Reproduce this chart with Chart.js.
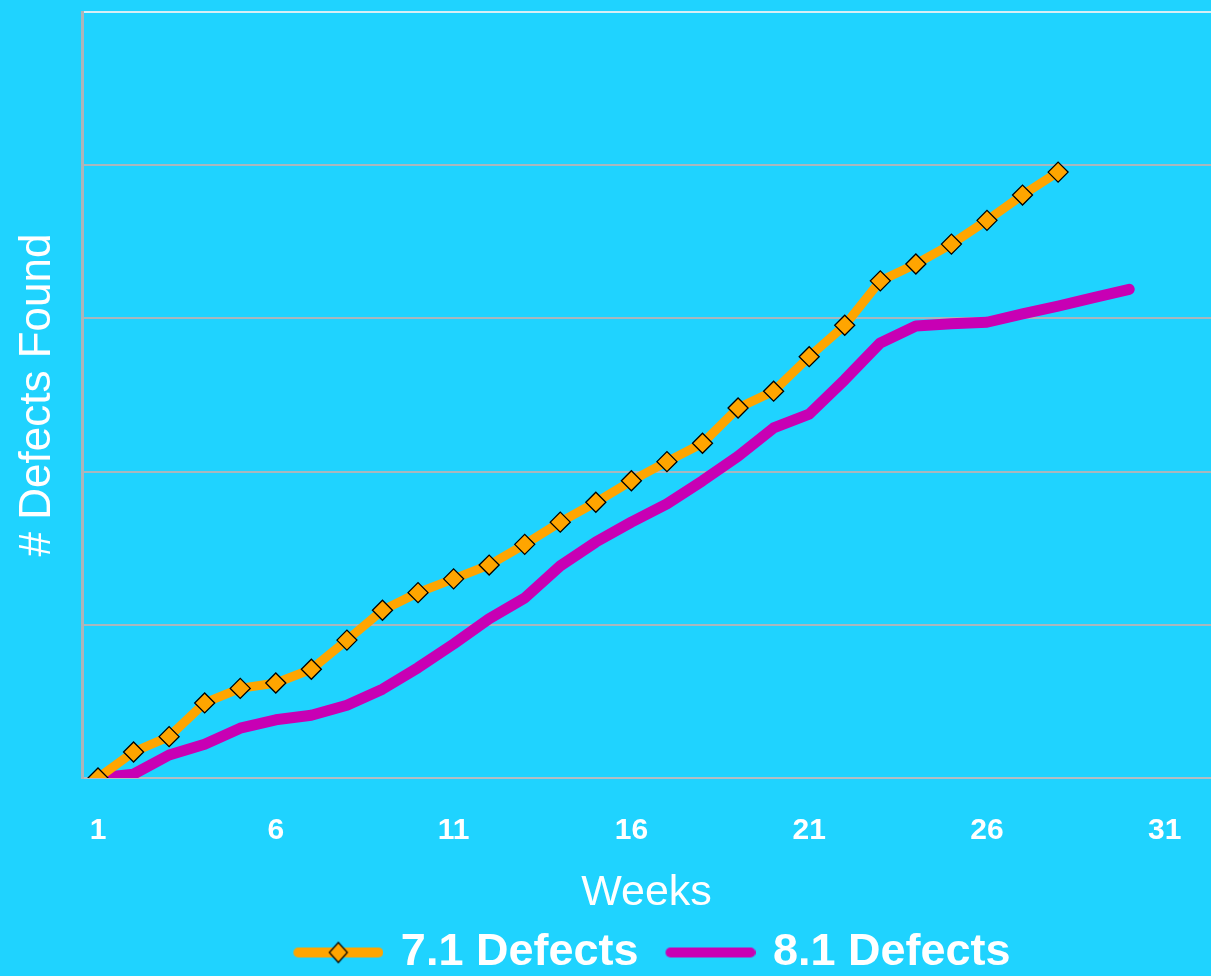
<!DOCTYPE html>
<html>
<head>
<meta charset="utf-8">
<script src="https://cdn.jsdelivr.net/npm/chart.js@4/dist/chart.umd.min.js"></script>
<style>
    html, body { margin: 0; padding: 0; background: #1FD3FF; }
    #wrap { width: 1211px; height: 976px; position: relative; }
</style>
</head>
<body>
<div id="wrap"><canvas id="grafico"></canvas></div>
<script>
// Semanas y defectos acumulados (escala relativa, el eje no muestra valores)
const WEEKS = [1, 2, 3, 4, 5, 6, 7, 8, 9, 10, 11, 12, 13, 14, 15, 16, 17, 18, 19, 20, 21, 22, 23, 24, 25, 26, 27, 28, 29, 30];
const DEFECTS_71 = [0, 3.4, 5.4, 9.8, 11.7, 12.4, 14.2, 18.0, 21.9, 24.2, 26.0, 27.8, 30.5, 33.4, 36.0, 38.8, 41.3, 43.7, 48.3, 50.5, 55.0, 59.1, 64.9, 67.1, 69.7, 72.8, 76.1, 79.1];
const DEFECTS_81 = [0, 0.5, 3.0, 4.4, 6.5, 7.6, 8.2, 9.5, 11.6, 14.4, 17.5, 20.8, 23.5, 27.7, 30.8, 33.4, 35.8, 38.8, 42.0, 45.7, 47.5, 52.0, 56.8, 59.0, 59.3, 59.5, 60.6, 61.6, 62.7, 63.8];
const X_TICKS = [1, 6, 11, 16, 21, 26, 31];
const SERIES_NAMES = ['7.1 Defects', '8.1 Defects'];

const ORANGE = '#FFA500';
const MAGENTA = '#C800B4';
const FONT = 'Arial, "Liberation Sans", sans-serif';

// Pares {x, y} a partir de los arreglos
const toPoints = (values) => values.map((v, i) => ({ x: WEEKS[i], y: v }));

// Iconos de la leyenda: línea gruesa, con rombo para la serie 7.1
const legendIcon = (color, diamond) => {
    const c = document.createElement('canvas');
    c.width = 100;
    c.height = 26;
    const ctx = c.getContext('2d');
    ctx.strokeStyle = color;
    ctx.lineWidth = 10;
    ctx.lineCap = 'round';
    ctx.beginPath();
    ctx.moveTo(15, 13);
    ctx.lineTo(95, 13);
    ctx.stroke();
    if (diamond) {
        ctx.fillStyle = color;
        ctx.strokeStyle = '#000';
        ctx.lineWidth = 1.2;
        ctx.beginPath();
        ctx.moveTo(55, 3);
        ctx.lineTo(64, 13);
        ctx.lineTo(55, 23);
        ctx.lineTo(46, 13);
        ctx.closePath();
        ctx.fill();
        ctx.stroke();
    }
    return c;
};
const ICONS = [legendIcon(ORANGE, true), legendIcon(MAGENTA, false)];

// Desplaza la leyenda para centrarla como en el original
const legendShift = {
    id: 'legendShift',
    afterLayout: (chart) => {
        if (chart.legend) {
            chart.legend.left = 88;
        }
    }
};

Chart.defaults.font.family = FONT;

new Chart(document.getElementById('grafico'), {
    type: 'line',
    data: {
        datasets: [{
            label: SERIES_NAMES[0],
            data: toPoints(DEFECTS_71),
            borderColor: ORANGE,
            backgroundColor: ORANGE,
            borderWidth: 9,
            pointStyle: 'rectRot',
            pointRadius: 10,
            pointBackgroundColor: ORANGE,
            pointBorderColor: '#000',
            pointBorderWidth: 1.3,
            tension: 0
        }, {
            label: SERIES_NAMES[1],
            data: toPoints(DEFECTS_81),
            borderColor: MAGENTA,
            backgroundColor: MAGENTA,
            borderWidth: 11,
            borderCapStyle: 'round',
            borderJoinStyle: 'round',
            pointRadius: 0,
            tension: 0
        }]
    },
    plugins: [legendShift],
    options: {
        responsive: true,
        maintainAspectRatio: false,
        animation: false,
        layout: { autoPadding: false, padding: { top: 12, right: 0, left: 0, bottom: -9 } },
        plugins: {
            tooltip: { enabled: false },
            legend: {
                position: 'bottom',
                labels: {
                    color: '#fff',
                    font: { size: 45, weight: 'bold', lineHeight: 1.0 },
                    usePointStyle: true,
                    pointStyleWidth: 90,
                    boxHeight: 26,
                    padding: 22,
                    generateLabels: (chart) => chart.data.datasets.map((ds, i) => ({
                        text: ds.label,
                        pointStyle: ICONS[i],
                        fillStyle: ds.borderColor,
                        strokeStyle: ds.borderColor,
                        lineWidth: 0,
                        hidden: false,
                        datasetIndex: i,
                        fontColor: '#fff'
                    }))
                }
            }
        },
        scales: {
            x: {
                type: 'linear',
                min: 0.55,
                max: 32.3,
                afterBuildTicks: (scale) => {
                    scale.ticks = X_TICKS.map(v => ({ value: v }));
                },
                afterFit: (scale) => {
                    scale.height = 130;
                    scale.paddingLeft = 0;
                    scale.paddingRight = 0;
                },
                grid: { display: false, drawTicks: false },
                border: { display: true, color: '#B4BEC3', width: 2 },
                ticks: {
                    color: '#fff',
                    font: { size: 30, weight: 'bold' },
                    padding: 35,
                    maxRotation: 0,
                    autoSkip: false
                },
                title: {
                    display: true,
                    text: 'Weeks',
                    color: '#fff',
                    font: { size: 43, lineHeight: 0.7 },
                    padding: { top: 0, bottom: 0 }
                }
            },
            y: {
                min: 0,
                max: 100,
                afterFit: (scale) => { scale.width = 82; },
                ticks: { display: false, stepSize: 20 },
                grid: {
                    drawTicks: false,
                    lineWidth: 2,
                    color: (ctx) => ctx.tick && ctx.tick.value === 100 ? '#D8EEF5' : '#A9B7BD'
                },
                border: { display: true, color: '#AEB4B8', width: 3 },
                title: {
                    display: true,
                    text: '# Defects Found',
                    color: '#fff',
                    font: { size: 44 },
                    padding: { top: 11, bottom: 0 }
                }
            }
        }
    }
});
</script>
</body>
</html>
